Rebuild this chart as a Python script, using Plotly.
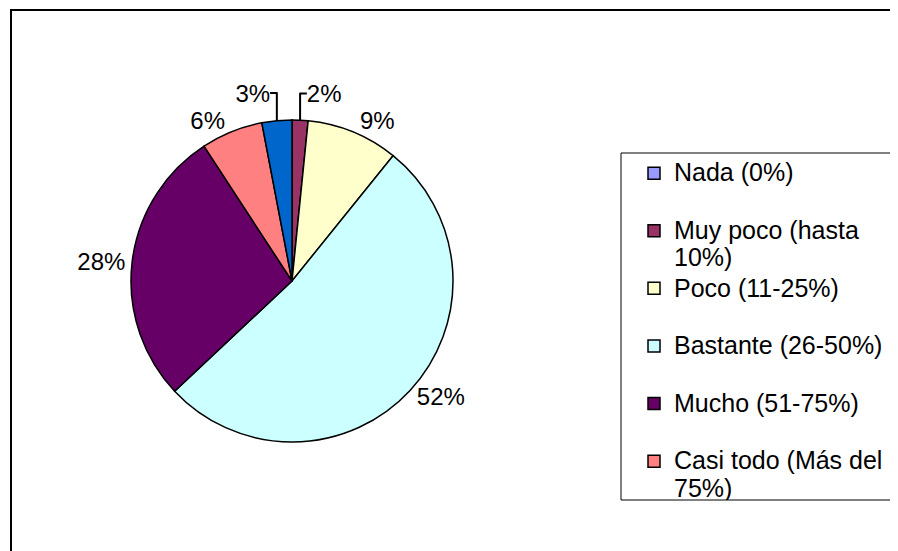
import plotly.graph_objects as go

# answer categories (legend order) and share of answers, in %
categorias = [
    "Nada (0%)",
    "Muy poco (hasta<br>10%)",
    "Poco (11-25%)",
    "Bastante (26-50%)",
    "Mucho (51-75%)",
    "Casi todo (Más del<br>75%)",
    "Sin datos",
]
porcentajes = [0, 1.6, 9.2, 52.2, 27.8, 6.2, 3.0]
colores = ["#9999FF", "#993366", "#FFFFCC", "#CCFFFF", "#660066", "#FF8080", "#0066CC"]

# the page body adds an 8px margin, so the figure sits 8px in from the window corner
OFF = 8
W, H = 890, 543
FONT = "Arial, Liberation Sans, sans-serif"


def px_x(x):
    return (x - OFF) / W


def px_y(y):
    return 1 - (y - OFF) / H


# every legend entry takes two lines so the entries are evenly spaced like Excel's;
# spacing comes from the 21px legend font, the glyphs are drawn at 25px
etiquetas = []
for c in categorias:
    if "<br>" not in c:
        c = c + "<br> "
    partes = c.split("<br>")
    etiquetas.append("<br>".join('<span style="font-size:25px">%s</span>' % p for p in partes))
# pad one entry so the legend (and its scrollbar) runs past the right edge
etiquetas[3] = etiquetas[3].replace("</span>", "\u00a0" * 16 + "</span>", 1)

textos = ["" if v == 0 else "%{percent:.0%}" for v in porcentajes]

cx, cy, r = 292, 281, 161

fig = go.Figure(go.Pie(
    labels=etiquetas,
    values=porcentajes,
    sort=False,
    direction="clockwise",
    rotation=0,
    marker=dict(colors=colores, line=dict(color="black", width=1.5)),
    texttemplate=textos,
    textposition="outside",
    textfont=dict(family=FONT, size=24, color="black"),
    hoverinfo="percent",
    domain=dict(x=[px_x(cx - r), px_x(cx + r)],
                y=[px_y(cy + r), px_y(cy - r)]),
))

fig.update_layout(
    width=W, height=H,
    margin=dict(l=0, r=0, t=0, b=0, autoexpand=False),
    paper_bgcolor="white",
    font=dict(family=FONT, color="black"),
    legend=dict(
        x=px_x(634), xanchor="left",
        y=px_y(153), yanchor="top",
        font=dict(family=FONT, size=21, color="black"),
        bgcolor="rgba(0,0,0,0)",
        borderwidth=0,
        valign="top",
        maxheight=347,
    ),
    shapes=[
        # chart area border
        dict(type="rect", xref="paper", yref="paper",
             x0=px_x(11), x1=1.1, y0=-0.1, y1=px_y(10),
             line=dict(color="black", width=2), layer="below"),
        # legend box
        dict(type="rect", xref="paper", yref="paper",
             x0=px_x(621), x1=1.1, y0=px_y(500), y1=px_y(153),
             line=dict(color="black", width=1), fillcolor="white", layer="below"),
    ],
)

fig.write_html("out.html")
